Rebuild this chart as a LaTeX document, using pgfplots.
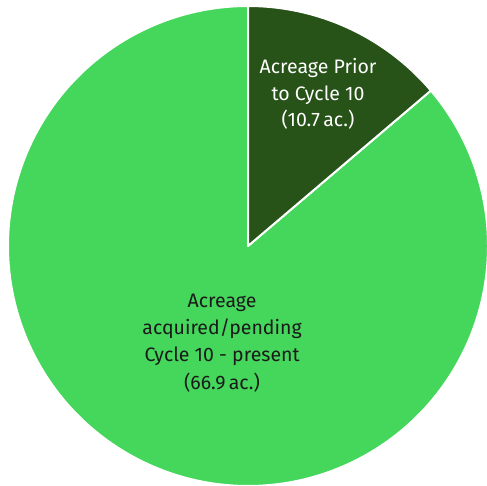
\documentclass[border=0pt]{standalone}
\usepackage{pgfplots}
\pgfplotsset{compat=1.18}
\usepackage{fontspec}
\setmainfont{Fira Sans}

\definecolor{darkslice}{RGB}{39,82,24}
\definecolor{lightslice}{RGB}{69,214,92}
\definecolor{labeldark}{RGB}{26,26,26}

% acreage values
\def\valA{10.7}
\def\valB{66.9}
\pgfmathsetmacro{\angA}{360*\valA/(\valA+\valB)}

\begin{document}
\begin{tikzpicture}
\begin{axis}[
width=487pt,
height=486pt,
scale only axis,
xmin=-1.0333, xmax=0.9958,
ymin=-1.0, ymax=1.025,
hide axis,
]

% Cycle 10 - present (clockwise from the end of the first slice back to the top)
\addplot[fill=lightslice, draw=white, line width=2pt, line join=round,
  domain=\angA:360, samples=300]
  ({sin(x)},{cos(x)}) -- (axis cs:0,0) -- cycle;

% prior to Cycle 10 (clockwise from 12 o'clock)
\addplot[fill=darkslice, draw=white, line width=2pt, line join=round,
  domain=0:\angA, samples=60]
  ({sin(x)},{cos(x)}) -- (axis cs:0,0) -- cycle;

\node[align=center, text=white, font=\fontsize{19.5}{26.5}\selectfont]
  at (axis cs:0.292,0.633) {Acreage Prior\\to Cycle 10\\(10.7\,ac.)};

\node[align=center, text=labeldark, font=\fontsize{19.5}{27.3}\selectfont]
  at (axis cs:-0.108,-0.404) {Acreage\\acquired/pending\\Cycle 10 - present\\(66.9\,ac.)};
\end{axis}
\pgfresetboundingbox
\path[use as bounding box] (current axis.south west) rectangle (current axis.north east);
\end{tikzpicture}
\end{document}
